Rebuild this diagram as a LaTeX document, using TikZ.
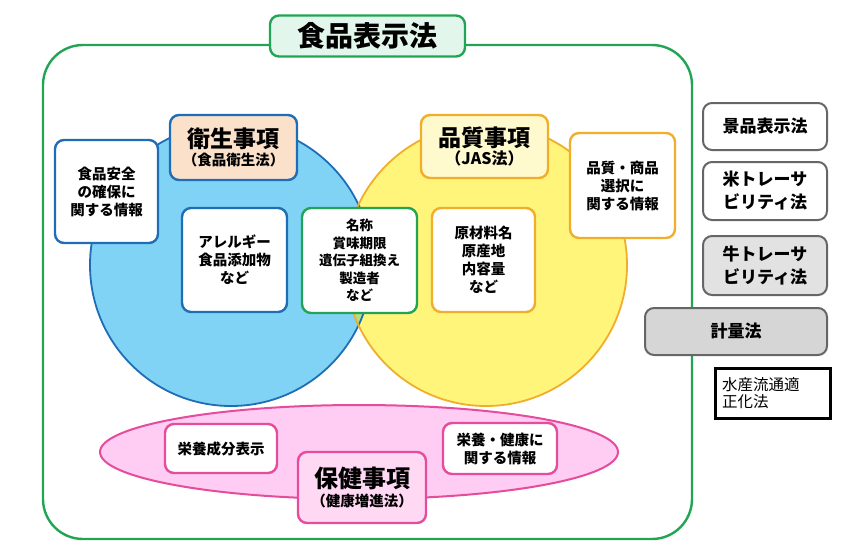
\documentclass[tikz,border=0pt]{standalone}
\usepackage{fontspec}
\setmainfont{Noto Sans CJK JP}
\usetikzlibrary{shapes.geometric}
\definecolor{bluefill}{HTML}{80D3F5}
\definecolor{bluedraw}{HTML}{1E6DB5}
\definecolor{yelfill}{HTML}{FFF57A}
\definecolor{yeldraw}{HTML}{F0AE2A}
\definecolor{overlap}{HTML}{B3DE84}
\definecolor{pinkfill}{HTML}{FFCCF3}
\definecolor{pinkdraw}{HTML}{E54C9B}
\definecolor{greendraw}{HTML}{22A455}
\definecolor{titlefill}{HTML}{E3F6EC}
\definecolor{peach}{HTML}{FBE1CA}
\definecolor{paleyel}{HTML}{FFF9CE}
\definecolor{graydraw}{HTML}{666666}
\definecolor{grayfill}{HTML}{D6D6D6}
\definecolor{pinkbox}{HTML}{FFD9F4}
\tikzset{
  box/.style={rectangle, rounded corners=9pt, line width=2.4pt, fill=white, align=center,
    inner sep=0pt, font=\bfseries\fontsize{14.5}{18}\selectfont},
  bluebox/.style={box, draw=bluedraw},
  yelbox/.style={box, draw=yeldraw},
  greenbox/.style={box, draw=greendraw},
  pinkbx/.style={box, draw=pinkdraw},
  graybox/.style={box, draw=graydraw, line width=2pt, font=\bfseries\fontsize{17}{23}\selectfont},
}
\newcommand{\subhead}[1]{{\fontsize{14.5}{16}\selectfont #1}}
\begin{document}
\begin{tikzpicture}[x=1pt,y=-1pt]
\useasboundingbox (0,0) rectangle (858,552);
% outer frame
\draw[greendraw, line width=2.4pt, rounded corners=40pt] (43,45) rectangle (692,539);
% circles
\fill[bluefill] (231,265) circle (141);
\fill[yelfill] (486,265) circle (141);
\begin{scope}
  \clip (231,265) circle (141);
  \fill[overlap] (486,265) circle (141);
\end{scope}
\draw[bluedraw, line width=1.8pt] (231,265) circle (141);
\draw[yeldraw, line width=1.8pt] (486,265) circle (141);
% pink ellipse
\draw[pinkdraw, fill=pinkfill, line width=2pt] (359,452) ellipse (259 and 47);
% title
\node[box, draw=greendraw, fill=titlefill, minimum width=195pt, minimum height=41pt,
  font=\bfseries\fontsize{28}{30}\selectfont] (title) at (367.5,36) {食品表示法};
% blue side
\node[bluebox, fill=peach, minimum width=127pt, minimum height=65pt, font=\bfseries\fontsize{23}{26}\selectfont]
  (eisei) at (233.5,147.5) {衛生事項\\[-8pt]\subhead{（食品衛生法）}};
\node[bluebox, minimum width=103pt, minimum height=103pt] (anzen) at (106.5,191.5) {食品安全\\の確保に\\関する情報};
\node[bluebox, minimum width=105pt, minimum height=104pt] (allergy) at (234.5,260) {アレルギー\\食品添加物\\など};
\node[greenbox, minimum width=115pt, minimum height=105pt, font=\bfseries\fontsize{13.5}{17.5}\selectfont]
  (meisho) at (359.5,260.5) {名称\\賞味期限\\遺伝子組換え\\製造者\\など};
% yellow side
\node[yelbox, fill=paleyel, minimum width=127pt, minimum height=63pt, font=\bfseries\fontsize{23}{26}\selectfont]
  (hinshitsu) at (484.5,146.5) {品質事項\\[-8pt]{\fontsize{16}{16}\selectfont （JAS法）}};
\node[yelbox, minimum width=105pt, minimum height=105pt] (shohin) at (622.5,185.5) {品質・商品\\選択に\\関する情報};
\node[yelbox, minimum width=103pt, minimum height=104pt] (genzai) at (483.5,260) {原材料名\\原産地\\内容量\\など};
% pink
\node[pinkbx, minimum width=112pt, minimum height=49pt] (eiyo) at (221,448.5) {栄養成分表示};
\node[pinkbx, minimum width=114pt, minimum height=51pt] (eiyokenko) at (500,448.5) {栄養・健康に\\関する情報};
\node[pinkbx, fill=pinkbox, minimum width=128pt, minimum height=71pt, font=\bfseries\fontsize{24}{26}\selectfont]
  (hoken) at (362,487.5) {保健事項\\[-7pt]\subhead{（健康増進法）}};
% right side
\node[graybox, minimum width=124pt, minimum height=47pt] (keihin) at (765,126.5) {景品表示法};
\node[graybox, minimum width=124pt, minimum height=58pt] (kome) at (765,191) {米トレーサ\\ビリティ法};
\node[graybox, fill=grayfill!70, minimum width=124pt, minimum height=59pt] (ushi) at (765,265.5) {牛トレーサ\\ビリティ法};
\node[graybox, fill=grayfill, minimum width=182pt, minimum height=47pt] (keiryo) at (736,331.5) {計量法};
\node[rectangle, draw=black, line width=3pt, fill=white, minimum width=115pt, minimum height=50pt,
  align=left, text width=102pt, inner sep=0pt, font=\fontsize{15.5}{17}\selectfont]
  (suisan) at (773,393) {水産流通適\\正化法};
\end{tikzpicture}
\end{document}
